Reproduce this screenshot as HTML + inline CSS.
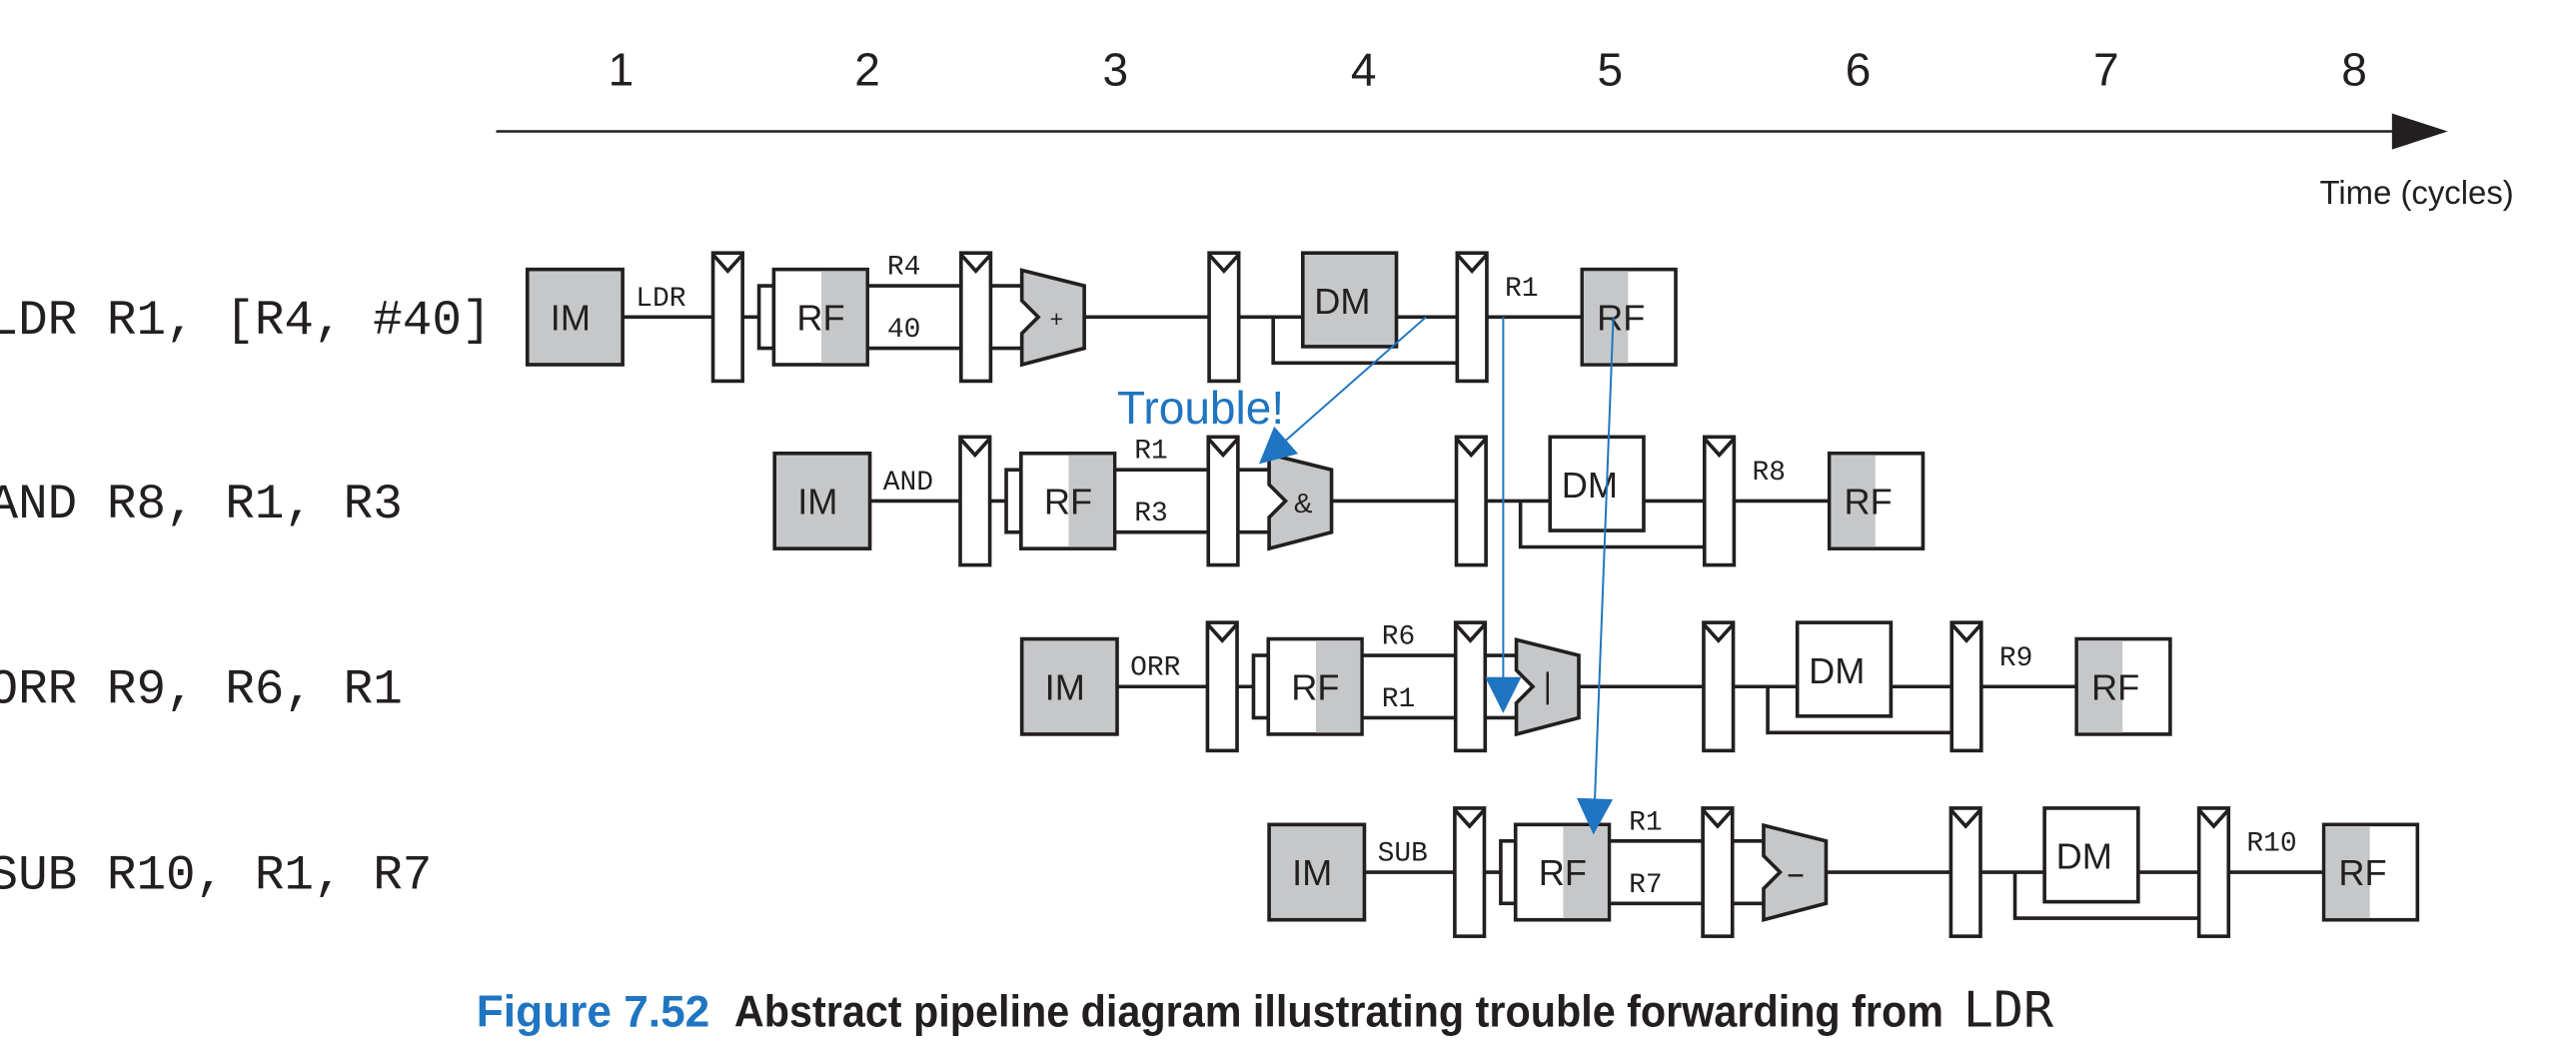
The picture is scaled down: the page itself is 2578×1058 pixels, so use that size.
<!DOCTYPE html>
<html><head><meta charset="utf-8"><style>
html,body{margin:0;padding:0;background:#fff;width:2578px;height:1058px;overflow:hidden}
svg{display:block}
.m{font-family:"Liberation Mono",monospace;fill:#231f20}
.s{font-family:"Liberation Sans",sans-serif;fill:#231f20}
</style></head><body>
<svg width="2578" height="1058" viewBox="0 0 1568 643.5" preserveAspectRatio="none" xmlns="http://www.w3.org/2000/svg">
<defs>
<marker id="ahb" viewBox="0 0 10 10" refX="9" refY="5" markerWidth="26" markerHeight="22" markerUnits="userSpaceOnUse" orient="auto">
<path d="M0,0 L10,5 L0,10 z" fill="#1f75c1"/></marker>
<g id="reg">
<rect x="0" y="0" width="18" height="78" fill="#fff" stroke="#231f20" stroke-width="2.2"/>
<polyline points="0,1 9,11 18,1" fill="none" stroke="#231f20" stroke-width="2.2"/>
</g>
<g id="base" stroke="#231f20" stroke-width="2.2">
<rect x="321" y="164" width="58" height="58" fill="#c6c7c9"/>
<line x1="379" y1="193" x2="434" y2="193"/>
<use href="#reg" x="434" y="154"/>
<line x1="452" y1="193" x2="462" y2="193"/>
<rect x="462" y="174" width="9" height="38" fill="#fff"/>
<rect x="471" y="164" width="57" height="58" fill="#fff"/>
<rect x="500" y="165" width="27" height="56" fill="#c6c7c9" stroke="none"/>
<line x1="528" y1="174" x2="585" y2="174"/><line x1="528" y1="212" x2="585" y2="212"/>
<use href="#reg" x="585" y="154"/>
<line x1="603" y1="174" x2="622" y2="174"/><line x1="603" y1="212" x2="622" y2="212"/>
<polygon points="622,164.5 660,174 660,212 622,222 622,203 632,193 622,183" fill="#c6c7c9"/>
<line x1="660" y1="193" x2="736" y2="193"/>
<use href="#reg" x="736" y="154"/>
<line x1="754" y1="193" x2="793" y2="193"/>
<polyline points="775,193 775,221 887,221" fill="none"/>
<line x1="850" y1="193" x2="887" y2="193"/>
<use href="#reg" x="887" y="154"/>
<line x1="905" y1="193" x2="963" y2="193"/>
<rect x="963" y="164" width="57" height="58" fill="#fff"/>
<rect x="964" y="165" width="27" height="56" fill="#c6c7c9" stroke="none"/>
</g>
<g id="btxt" class="s" font-size="22">
<text x="335" y="201">IM</text><text x="485" y="201">RF</text><text x="800" y="191">DM</text><text x="972" y="201">RF</text>
</g>
</defs>
<g class="s" font-size="28" text-anchor="middle">
<text x="378" y="52">1</text><text x="528" y="52">2</text><text x="679" y="52">3</text><text x="830" y="52">4</text>
<text x="980" y="52">5</text><text x="1131" y="52">6</text><text x="1282" y="52">7</text><text x="1433" y="52">8</text>
</g>
<line x1="302" y1="80" x2="1462" y2="80" stroke="#231f20" stroke-width="1.5"/>
<polygon points="1456,69 1490,80 1456,91" fill="#231f20"/>
<text class="s" x="1412" y="124" font-size="20">Time (cycles)</text>
<g class="m" font-size="30">
<text x="-7" y="203">LDR R1, [R4, #40]</text>
<text x="-7" y="315">AND R8, R1, R3</text>
<text x="-7" y="428">ORR R9, R6, R1</text>
<text x="-7" y="541">SUB R10, R1, R7</text>
</g>

<!-- ROW 1 -->
<use href="#base"/>
<rect x="793" y="154" width="57" height="57" fill="#c6c7c9" stroke="#231f20" stroke-width="2.2"/>
<use href="#btxt"/>
<text class="s" x="639" y="199" font-size="14">+</text>
<g class="m" font-size="17"><text x="387" y="186">LDR</text><text x="540" y="167">R4</text><text x="540" y="205">40</text><text x="916" y="180">R1</text></g>

<!-- ROW 2 -->
<g transform="translate(150.5,112)">
<use href="#base"/>
<rect x="793" y="154" width="57" height="57" fill="#fff" stroke="#231f20" stroke-width="2.2"/>
<use href="#btxt"/>
<text class="s" x="637" y="200" font-size="17">&amp;</text>
<g class="m" font-size="17"><text x="387" y="186">AND</text><text x="540" y="167">R1</text><text x="540" y="205">R3</text><text x="916" y="180">R8</text></g>
</g>

<!-- ROW 3 -->
<g transform="translate(301,225)">
<use href="#base"/>
<rect x="793" y="154" width="57" height="57" fill="#fff" stroke="#231f20" stroke-width="2.2"/>
<use href="#btxt"/>
<line x1="641" y1="184" x2="641" y2="204" stroke="#231f20" stroke-width="1.5"/>
<g class="m" font-size="17"><text x="387" y="186">ORR</text><text x="540" y="167">R6</text><text x="540" y="205">R1</text><text x="916" y="180">R9</text></g>
</g>

<!-- ROW 4 -->
<g transform="translate(451.5,338)">
<use href="#base"/>
<rect x="793" y="154" width="57" height="57" fill="#fff" stroke="#231f20" stroke-width="2.2"/>
<use href="#btxt"/>
<line x1="637" y1="195" x2="646" y2="195" stroke="#231f20" stroke-width="1.5"/>
<g class="m" font-size="17"><text x="387" y="186">SUB</text><text x="540" y="167">R1</text><text x="540" y="205">R7</text><text x="916" y="180">R10</text></g>
</g>

<line x1="868" y1="193" x2="768" y2="281" stroke="#1f75c1" stroke-width="1.2" marker-end="url(#ahb)"/>
<line x1="915" y1="193" x2="915" y2="432" stroke="#1f75c1" stroke-width="1.2" marker-end="url(#ahb)"/>
<line x1="982" y1="193" x2="970" y2="506" stroke="#1f75c1" stroke-width="1.2" marker-end="url(#ahb)"/>
<text x="680" y="258" font-family="Liberation Sans, sans-serif" font-size="28" fill="#1f75c1">Trouble!</text>

<text x="290" y="625" font-family="Liberation Sans, sans-serif" font-weight="bold" font-size="27" fill="#1f75c1" textLength="142" lengthAdjust="spacingAndGlyphs">Figure 7.52</text>
<text x="447" y="625" font-family="Liberation Sans, sans-serif" font-weight="bold" font-size="27" fill="#231f20" textLength="736" lengthAdjust="spacingAndGlyphs">Abstract pipeline diagram illustrating trouble forwarding from</text>
<text x="1195" y="625" font-family="DejaVu Sans Mono, monospace" font-size="30" fill="#231f20" textLength="55" lengthAdjust="spacingAndGlyphs">LDR</text>
</svg>
</body></html>
